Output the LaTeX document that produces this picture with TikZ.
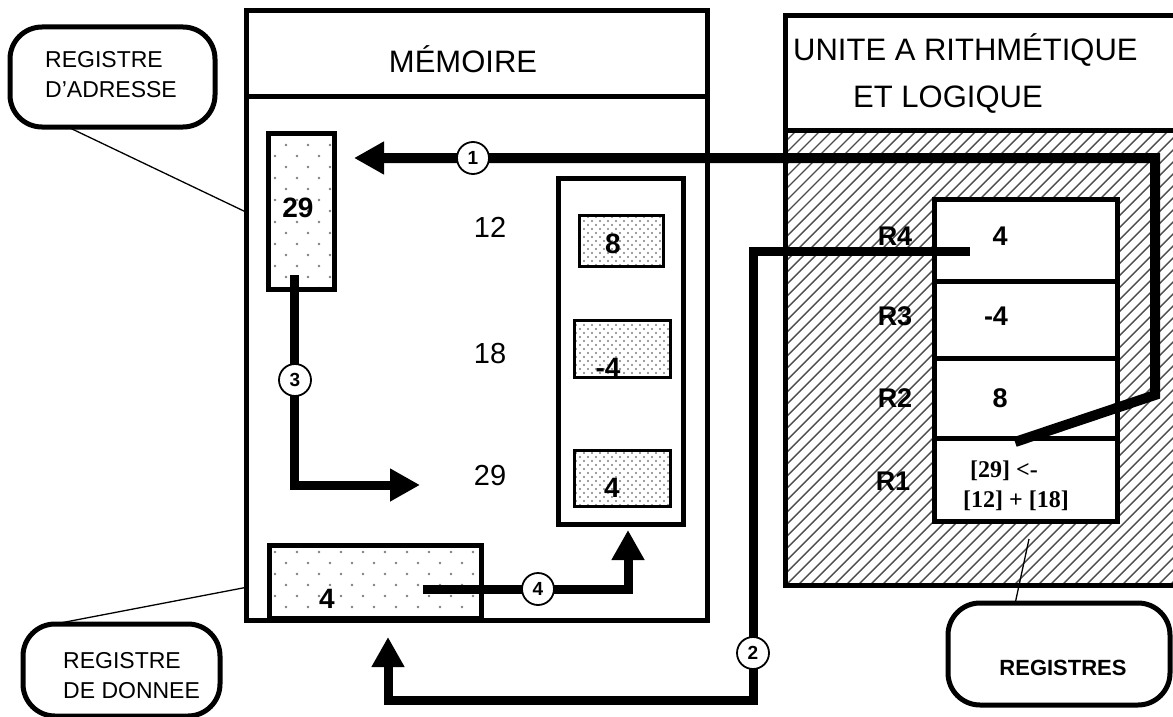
\documentclass[tikz,border=0pt]{standalone}
\usepackage{fontspec}
\setmainfont{Liberation Sans}
\newfontfamily\tms{Liberation Serif}
\usetikzlibrary{arrows.meta,patterns.meta}
\tikzset{
  sparsedots/.style={preaction={fill=white},
    preaction={pattern={Dots[distance=22pt,radius=1.3pt]}, pattern color=gray},
    pattern={Dots[distance=22pt,radius=1.3pt,xshift=11pt,yshift=11pt]}, pattern color=gray},
  densedots/.style={preaction={fill=white},
    preaction={pattern={Dots[distance=8pt,radius=1.1pt]}, pattern color=gray},
    pattern={Dots[distance=8pt,radius=1.1pt,xshift=4pt,yshift=4pt]}, pattern color=gray},
  regbox/.style={draw, line width=5pt, sparsedots, inner sep=0pt},
  cellbox/.style={draw, line width=3pt, densedots, inner sep=0pt},
  plainbox/.style={draw, line width=5pt, inner sep=0pt},
  flowarrow/.style={line width=9pt, -{Triangle[length=30pt,width=31pt]}},
  stepnum/.style={circle, draw, line width=1.8pt, fill=white, minimum size=32pt, inner sep=0pt,
    font=\fontsize{19}{19}\selectfont\bfseries},
  lbl/.style={inner sep=0pt, anchor=base},
  lblw/.style={inner sep=0pt, anchor=base west},
  titlefont/.style={font=\fontsize{31}{36}\selectfont},
  addrfont/.style={font=\fontsize{29}{34}\selectfont},
  valfont/.style={font=\fontsize{28}{32}\selectfont\bfseries},
  rfont/.style={font=\fontsize{27}{30}\selectfont\bfseries},
  callfont/.style={font=\fontsize{23}{28}\selectfont},
  callout/.style={draw, line width=5pt, rounded corners=32pt},
  leader/.style={line width=1.3pt},
  hatchline/.style={line width=1.4pt, black!70},
}
\begin{document}
\begin{tikzpicture}[x=1pt,y=-1pt]
\useasboundingbox (0,0) rectangle (1173,717);
% ---------- ALU hatched area ----------
\begin{scope}
  \clip (785,130) rectangle (1180,586);
  \foreach \i in {0,...,75} {
    \draw[hatchline] (313+12*\i,590) -- ++(465,-465);
  }
\end{scope}
% ALU box
\draw[line width=5pt] (1180,15.5) -- (785.5,15.5) -- (785.5,585.5) -- (1180,585.5);
\draw[line width=5pt] (785.5,130) -- (1180,130);
% register stack
\node[plainbox, fill=white, minimum width=183pt, minimum height=322pt] (regs) at (1026,360.5) {};
\draw[line width=5pt] (934.5,281) -- (1117.5,281);
\draw[line width=5pt] (934.5,358) -- (1117.5,358);
\draw[line width=5pt] (934.5,438) -- (1117.5,438);
% ---------- Memory ----------
\draw[line width=5pt] (246.5,10.5) rectangle (707.5,620);
\draw[line width=5pt] (246.5,96) -- (707.5,96);
\node[regbox, minimum width=66pt, minimum height=156pt] (areg) at (301,211) {};
\node[regbox, minimum width=212pt, minimum height=72.5pt] (dreg) at (375.5,581.75) {};
\node[plainbox, minimum width=125pt, minimum height=346pt] (col) at (621,351.5) {};
\node[cellbox, minimum width=84pt, minimum height=51pt] (c8) at (621.5,241) {};
\node[cellbox, minimum width=96pt, minimum height=57pt] (cm4) at (622.5,349) {};
\node[cellbox, minimum width=96pt, minimum height=56pt] (c4) at (622.5,478.5) {};
% ---------- Callouts ----------
\node[callout, minimum width=205pt, minimum height=100pt] (cadr) at (112.5,77) {};
\node[callout, minimum width=197pt, minimum height=92pt] (cdon) at (121.5,670) {};
\node[callout, minimum width=222pt, minimum height=102pt] (creg) at (1059,654) {};
\coordinate (ladr) at (248,213);
\coordinate (ldon) at (248,587);
\coordinate (lreg) at (1029,539);
\draw[leader] (70,128) -- (ladr);
\draw[leader] (55,624) -- (ldon);
\draw[leader] (1015,604) -- (lreg);
% ---------- Flows ----------
\coordinate (a1s) at (1015,442);
\coordinate (a1b) at (1155,395);
\coordinate (a1c) at (1155,158);
\coordinate (a1e) at (354,158);
\draw[flowarrow, line width=10pt] (a1s) -- (a1b) -- (a1c) -- (a1e);
\node[stepnum] (n1) at (473,158) {1};
\coordinate (a2s) at (970,251);
\coordinate (a2b) at (753,251);
\coordinate (a2c) at (753,700);
\coordinate (a2d) at (388,700);
\coordinate (a2e) at (388,637);
\draw[flowarrow] (a2s) -- (a2b) -- (a2c) -- (a2d) -- (a2e);
\node[stepnum] (n2) at (753,653) {2};
\coordinate (a3s) at (294,275);
\coordinate (a3b) at (294,485);
\coordinate (a3e) at (420,485);
\draw[flowarrow] (a3s) -- (a3b) -- (a3e);
\node[stepnum] (n3) at (295,380) {3};
\coordinate (a4s) at (423,589);
\coordinate (a4b) at (628,589);
\coordinate (a4e) at (628,530);
\draw[flowarrow] (a4s) -- (a4b) -- (a4e);
\node[stepnum] (n4) at (538,589) {4};
% ---------- Texts ----------
\node[lbl, titlefont] (tmem) at (463,73) {MÉMOIRE};
\node[lblw, titlefont] (talu1) at (793,60) {UNITE A RITHMÉTIQUE};
\node[lblw, titlefont] (talu2) at (853,107) {ET LOGIQUE};
\node[lblw, callfont] (tadr1) at (45,68) {REGISTRE};
\node[lblw, callfont] (tadr2) at (45,97) {D'ADRESSE};
\node[lblw, callfont] (tdon1) at (63,668) {REGISTRE};
\node[lblw, callfont] (tdon2) at (63,698) {DE DONNEE};
\node[lbl, font=\fontsize{22}{26}\selectfont\bfseries] (treg) at (1063,675) {REGISTRES};
\node[lbl, addrfont] (ad12) at (490,237) {12};
\node[lbl, addrfont] (ad18) at (490,363) {18};
\node[lbl, addrfont] (ad29) at (490,485) {29};
\node[lbl, valfont] (v8) at (613,253) {8};
\node[lbl, valfont] (vm4) at (608,377) {-4};
\node[lbl, valfont] (v4) at (612,497) {4};
\node[lbl, valfont] (vareg) at (298,217) {29};
\node[lbl, valfont] (vdreg) at (327,608) {4};
\node[lbl, rfont] (r4) at (895,245) {R4};
\node[lbl, rfont] (r3) at (895,325) {R3};
\node[lbl, rfont] (r2) at (895,407) {R2};
\node[lbl, rfont] (r1) at (893,490) {R1};
\node[lbl, rfont] (vr4) at (1000,245) {4};
\node[lbl, rfont] (vr3) at (996,325) {-4};
\node[lbl, rfont] (vr2) at (1000,407) {8};
\node[lbl, font=\tms\fontsize{24}{28}\selectfont\bfseries] (op1) at (1004,477) {[29] <-};
\node[lbl, font=\tms\fontsize{24}{28}\selectfont\bfseries] (op2) at (1016,507) {[12] + [18]};
\end{tikzpicture}
\end{document}
